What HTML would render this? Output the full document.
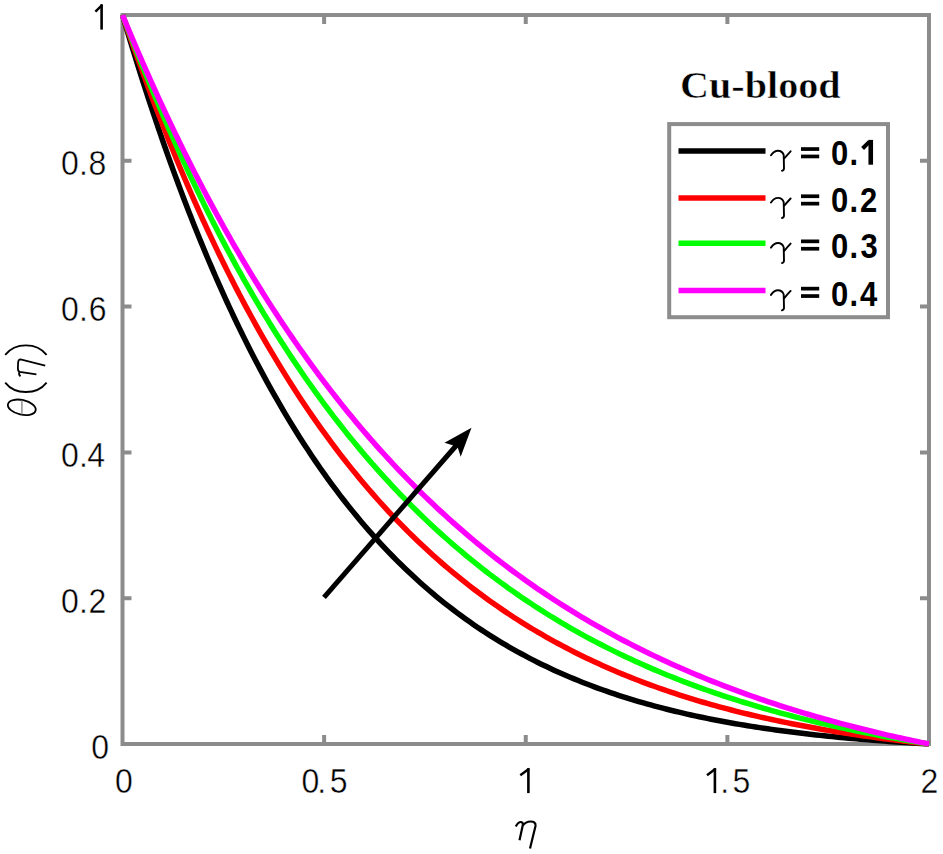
<!DOCTYPE html>
<html><head><meta charset="utf-8"><style>
html,body{margin:0;padding:0;background:#fff;width:943px;height:854px;overflow:hidden}
svg{display:block}
.t{font-family:"Liberation Sans",sans-serif;font-size:32px;fill:#000;stroke:#fff;stroke-width:0.4px}
.b{font-family:"Liberation Sans",sans-serif;font-size:31px;font-weight:bold;fill:#000}
</style></head><body>
<svg width="943" height="854" viewBox="0 0 943 854">
<rect x="0" y="0" width="943" height="854" fill="#fff"/>
<g stroke="#8c8c8c" stroke-width="4" fill="none">
<rect x="122.5" y="15.0" width="806.5" height="729.0"/>
<path d="M324.12 744.0v-9M324.12 15.0v9M525.75 744.0v-9M525.75 15.0v9M727.38 744.0v-9M727.38 15.0v9M122.5 598.20h9M929.0 598.20h-9M122.5 452.40h9M929.0 452.40h-9M122.5 306.60h9M929.0 306.60h-9M122.5 160.80h9M929.0 160.80h-9"/>
</g>
<g fill="none" stroke-width="5.5" stroke-linejoin="round" stroke-linecap="butt">
<path d="M122.50 15.00 L124.52 21.81 L126.53 28.57 L128.55 35.28 L130.56 41.92 L132.58 48.51 L134.60 55.05 L136.61 61.53 L138.63 67.96 L140.65 74.33 L142.66 80.65 L144.68 86.92 L146.69 93.14 L148.71 99.30 L150.73 105.41 L152.74 111.47 L154.76 117.48 L156.78 123.44 L158.79 129.34 L160.81 135.20 L162.82 141.01 L164.84 146.77 L166.86 152.48 L168.87 158.14 L170.89 163.75 L172.91 169.32 L174.92 174.84 L176.94 180.31 L178.96 185.73 L180.97 191.11 L182.99 196.44 L185.00 201.73 L187.02 206.97 L189.04 212.16 L191.05 217.31 L193.07 222.42 L195.08 227.48 L197.10 232.50 L199.12 237.48 L201.13 242.41 L203.15 247.30 L205.17 252.15 L207.18 256.95 L209.20 261.71 L211.22 266.44 L213.23 271.12 L215.25 275.76 L217.26 280.36 L219.28 284.92 L221.30 289.44 L223.31 293.92 L225.33 298.36 L227.34 302.76 L229.36 307.12 L231.38 311.45 L233.39 315.73 L235.41 319.98 L237.43 324.19 L239.44 328.37 L241.46 332.50 L243.47 336.60 L247.51 344.70 L251.54 352.65 L255.57 360.45 L259.61 368.12 L263.64 375.66 L267.67 383.06 L271.70 390.32 L275.74 397.46 L279.77 404.47 L283.80 411.35 L287.83 418.11 L291.87 424.74 L295.90 431.26 L299.93 437.66 L303.96 443.94 L308.00 450.11 L312.03 456.16 L316.06 462.11 L320.09 467.94 L324.12 473.67 L328.16 479.29 L332.19 484.81 L336.22 490.23 L340.25 495.54 L344.29 500.76 L348.32 505.88 L352.35 510.90 L356.38 515.84 L360.42 520.68 L364.45 525.42 L368.48 530.08 L372.51 534.65 L376.55 539.14 L380.58 543.54 L384.61 547.86 L388.64 552.09 L392.68 556.25 L396.71 560.32 L400.74 564.32 L404.77 568.24 L408.81 572.09 L412.84 575.86 L416.87 579.56 L420.90 583.19 L424.94 586.75 L428.97 590.24 L433.00 593.66 L437.04 597.02 L441.07 600.31 L445.10 603.53 L449.13 606.70 L453.17 609.80 L457.20 612.84 L461.23 615.82 L465.26 618.74 L469.30 621.60 L473.33 624.41 L477.36 627.16 L481.39 629.86 L485.42 632.51 L489.46 635.10 L493.49 637.64 L497.52 640.13 L501.56 642.56 L505.59 644.95 L509.62 647.30 L513.65 649.59 L517.68 651.84 L521.72 654.04 L525.75 656.20 L529.78 658.32 L533.82 660.39 L537.85 662.42 L541.88 664.41 L545.91 666.35 L549.94 668.26 L553.98 670.13 L558.01 671.96 L562.04 673.75 L566.08 675.51 L570.11 677.23 L574.14 678.91 L578.17 680.56 L582.20 682.18 L586.24 683.76 L590.27 685.30 L594.30 686.82 L598.34 688.30 L602.37 689.76 L606.40 691.18 L610.43 692.57 L614.46 693.93 L618.50 695.27 L622.53 696.58 L626.56 697.85 L630.60 699.11 L634.63 700.33 L638.66 701.53 L642.69 702.70 L646.73 703.85 L650.76 704.97 L654.79 706.07 L658.82 707.15 L662.86 708.20 L666.89 709.23 L670.92 710.24 L674.95 711.23 L678.99 712.19 L683.02 713.13 L687.05 714.06 L691.08 714.96 L695.12 715.84 L699.15 716.71 L703.18 717.55 L707.21 718.38 L711.25 719.19 L715.28 719.98 L719.31 720.75 L723.34 721.51 L727.38 722.25 L731.41 722.97 L735.44 723.68 L739.47 724.37 L743.50 725.05 L747.54 725.71 L751.57 726.35 L755.60 726.99 L759.63 727.60 L763.67 728.21 L767.70 728.80 L771.73 729.37 L775.76 729.94 L779.80 730.49 L783.83 731.03 L787.86 731.55 L791.90 732.07 L795.93 732.57 L799.96 733.06 L803.99 733.54 L808.03 734.01 L812.06 734.47 L816.09 734.92 L820.12 735.36 L824.15 735.79 L828.19 736.20 L832.22 736.61 L836.25 737.01 L840.28 737.40 L844.32 737.78 L848.35 738.15 L852.38 738.51 L856.42 738.87 L860.45 739.22 L864.48 739.55 L868.51 739.88 L872.55 740.21 L876.58 740.52 L880.61 740.83 L884.64 741.13 L888.68 741.42 L892.71 741.71 L896.74 741.99 L900.77 742.26 L904.81 742.53 L908.84 742.79 L912.87 743.04 L916.90 743.29 L920.93 743.53 L924.97 743.77 L929.00 744.00" stroke="#000000"/>
<path d="M122.50 15.00 L124.52 20.90 L126.53 26.76 L128.55 32.58 L130.56 38.36 L132.58 44.09 L134.60 49.78 L136.61 55.43 L138.63 61.04 L140.65 66.61 L142.66 72.13 L144.68 77.62 L146.69 83.06 L148.71 88.47 L150.73 93.84 L152.74 99.16 L154.76 104.45 L156.78 109.70 L158.79 114.91 L160.81 120.08 L162.82 125.22 L164.84 130.32 L166.86 135.37 L168.87 140.40 L170.89 145.38 L172.91 150.33 L174.92 155.24 L176.94 160.11 L178.96 164.95 L180.97 169.75 L182.99 174.52 L185.00 179.25 L187.02 183.95 L189.04 188.61 L191.05 193.24 L193.07 197.83 L195.08 202.39 L197.10 206.91 L199.12 211.40 L201.13 215.86 L203.15 220.29 L205.17 224.68 L207.18 229.03 L209.20 233.36 L211.22 237.65 L213.23 241.91 L215.25 246.14 L217.26 250.34 L219.28 254.51 L221.30 258.64 L223.31 262.75 L225.33 266.82 L227.34 270.86 L229.36 274.87 L231.38 278.85 L233.39 282.81 L235.41 286.73 L237.43 290.62 L239.44 294.48 L241.46 298.31 L243.47 302.12 L247.51 309.64 L251.54 317.05 L255.57 324.35 L259.61 331.54 L263.64 338.61 L267.67 345.58 L271.70 352.45 L275.74 359.21 L279.77 365.86 L283.80 372.42 L287.83 378.88 L291.87 385.23 L295.90 391.49 L299.93 397.65 L303.96 403.72 L308.00 409.70 L312.03 415.58 L316.06 421.37 L320.09 427.08 L324.12 432.69 L328.16 438.22 L332.19 443.66 L336.22 449.02 L340.25 454.30 L344.29 459.49 L348.32 464.60 L352.35 469.63 L356.38 474.59 L360.42 479.46 L364.45 484.26 L368.48 488.99 L372.51 493.64 L376.55 498.22 L380.58 502.72 L384.61 507.16 L388.64 511.52 L392.68 515.82 L396.71 520.05 L400.74 524.21 L404.77 528.30 L408.81 532.33 L412.84 536.30 L416.87 540.20 L420.90 544.04 L424.94 547.82 L428.97 551.54 L433.00 555.20 L437.04 558.80 L441.07 562.34 L445.10 565.83 L449.13 569.26 L453.17 572.64 L457.20 575.96 L461.23 579.23 L465.26 582.44 L469.30 585.60 L473.33 588.72 L477.36 591.78 L481.39 594.79 L485.42 597.75 L489.46 600.67 L493.49 603.53 L497.52 606.35 L501.56 609.13 L505.59 611.86 L509.62 614.54 L513.65 617.18 L517.68 619.78 L521.72 622.33 L525.75 624.85 L529.78 627.32 L533.82 629.75 L537.85 632.14 L541.88 634.49 L545.91 636.80 L549.94 639.07 L553.98 641.31 L558.01 643.51 L562.04 645.67 L566.08 647.80 L570.11 649.89 L574.14 651.95 L578.17 653.97 L582.20 655.96 L586.24 657.91 L590.27 659.83 L594.30 661.72 L598.34 663.58 L602.37 665.41 L606.40 667.20 L610.43 668.97 L614.46 670.71 L618.50 672.41 L622.53 674.09 L626.56 675.74 L630.60 677.36 L634.63 678.96 L638.66 680.52 L642.69 682.06 L646.73 683.58 L650.76 685.07 L654.79 686.53 L658.82 687.97 L662.86 689.38 L666.89 690.77 L670.92 692.14 L674.95 693.48 L678.99 694.80 L683.02 696.09 L687.05 697.37 L691.08 698.62 L695.12 699.85 L699.15 701.06 L703.18 702.25 L707.21 703.42 L711.25 704.56 L715.28 705.69 L719.31 706.80 L723.34 707.89 L727.38 708.96 L731.41 710.01 L735.44 711.04 L739.47 712.06 L743.50 713.05 L747.54 714.03 L751.57 714.99 L755.60 715.94 L759.63 716.87 L763.67 717.78 L767.70 718.68 L771.73 719.56 L775.76 720.42 L779.80 721.27 L783.83 722.11 L787.86 722.93 L791.90 723.73 L795.93 724.52 L799.96 725.30 L803.99 726.06 L808.03 726.81 L812.06 727.55 L816.09 728.27 L820.12 728.98 L824.15 729.68 L828.19 730.37 L832.22 731.04 L836.25 731.70 L840.28 732.35 L844.32 732.99 L848.35 733.61 L852.38 734.23 L856.42 734.83 L860.45 735.42 L864.48 736.01 L868.51 736.58 L872.55 737.14 L876.58 737.69 L880.61 738.23 L884.64 738.76 L888.68 739.28 L892.71 739.79 L896.74 740.30 L900.77 740.79 L904.81 741.27 L908.84 741.75 L912.87 742.22 L916.90 742.68 L920.93 743.12 L924.97 743.57 L929.00 744.00" stroke="#ff0000"/>
<path d="M122.50 15.00 L124.52 20.32 L126.53 25.60 L128.55 30.85 L130.56 36.06 L132.58 41.24 L134.60 46.38 L136.61 51.49 L138.63 56.57 L140.65 61.61 L142.66 66.62 L144.68 71.60 L146.69 76.54 L148.71 81.45 L150.73 86.33 L152.74 91.17 L154.76 95.98 L156.78 100.76 L158.79 105.51 L160.81 110.23 L162.82 114.92 L164.84 119.57 L166.86 124.20 L168.87 128.79 L170.89 133.35 L172.91 137.88 L174.92 142.39 L176.94 146.86 L178.96 151.30 L180.97 155.71 L182.99 160.10 L185.00 164.45 L187.02 168.77 L189.04 173.07 L191.05 177.34 L193.07 181.58 L195.08 185.79 L197.10 189.97 L199.12 194.12 L201.13 198.25 L203.15 202.35 L205.17 206.42 L207.18 210.46 L209.20 214.48 L211.22 218.47 L213.23 222.43 L215.25 226.37 L217.26 230.28 L219.28 234.17 L221.30 238.02 L223.31 241.86 L225.33 245.66 L227.34 249.44 L229.36 253.20 L231.38 256.93 L233.39 260.63 L235.41 264.31 L237.43 267.97 L239.44 271.60 L241.46 275.21 L243.47 278.79 L247.51 285.88 L251.54 292.88 L255.57 299.78 L259.61 306.59 L263.64 313.31 L267.67 319.93 L271.70 326.47 L275.74 332.92 L279.77 339.28 L283.80 345.56 L287.83 351.75 L291.87 357.86 L295.90 363.89 L299.93 369.83 L303.96 375.69 L308.00 381.48 L312.03 387.18 L316.06 392.81 L320.09 398.36 L324.12 403.84 L328.16 409.24 L332.19 414.57 L336.22 419.82 L340.25 425.01 L344.29 430.12 L348.32 435.16 L352.35 440.14 L356.38 445.04 L360.42 449.88 L364.45 454.66 L368.48 459.36 L372.51 464.01 L376.55 468.59 L380.58 473.11 L384.61 477.56 L388.64 481.95 L392.68 486.29 L396.71 490.56 L400.74 494.78 L404.77 498.93 L408.81 503.03 L412.84 507.08 L416.87 511.06 L420.90 515.00 L424.94 518.87 L428.97 522.70 L433.00 526.47 L437.04 530.19 L441.07 533.86 L445.10 537.48 L449.13 541.04 L453.17 544.56 L457.20 548.03 L461.23 551.45 L465.26 554.82 L469.30 558.15 L473.33 561.43 L477.36 564.66 L481.39 567.85 L485.42 571.00 L489.46 574.10 L493.49 577.16 L497.52 580.17 L501.56 583.15 L505.59 586.08 L509.62 588.97 L513.65 591.82 L517.68 594.63 L521.72 597.40 L525.75 600.13 L529.78 602.82 L533.82 605.48 L537.85 608.10 L541.88 610.68 L545.91 613.23 L549.94 615.74 L553.98 618.21 L558.01 620.65 L562.04 623.05 L566.08 625.42 L570.11 627.76 L574.14 630.07 L578.17 632.34 L582.20 634.58 L586.24 636.79 L590.27 638.96 L594.30 641.11 L598.34 643.23 L602.37 645.31 L606.40 647.37 L610.43 649.39 L614.46 651.39 L618.50 653.36 L622.53 655.30 L626.56 657.22 L630.60 659.10 L634.63 660.96 L638.66 662.80 L642.69 664.61 L646.73 666.39 L650.76 668.14 L654.79 669.87 L658.82 671.58 L662.86 673.26 L666.89 674.92 L670.92 676.55 L674.95 678.16 L678.99 679.75 L683.02 681.32 L687.05 682.86 L691.08 684.38 L695.12 685.88 L699.15 687.35 L703.18 688.81 L707.21 690.24 L711.25 691.66 L715.28 693.05 L719.31 694.42 L723.34 695.77 L727.38 697.11 L731.41 698.42 L735.44 699.72 L739.47 701.00 L743.50 702.25 L747.54 703.49 L751.57 704.72 L755.60 705.92 L759.63 707.11 L763.67 708.28 L767.70 709.43 L771.73 710.57 L775.76 711.68 L779.80 712.79 L783.83 713.87 L787.86 714.95 L791.90 716.00 L795.93 717.04 L799.96 718.07 L803.99 719.08 L808.03 720.07 L812.06 721.05 L816.09 722.02 L820.12 722.97 L824.15 723.91 L828.19 724.83 L832.22 725.74 L836.25 726.64 L840.28 727.53 L844.32 728.40 L848.35 729.26 L852.38 730.10 L856.42 730.94 L860.45 731.76 L864.48 732.57 L868.51 733.36 L872.55 734.15 L876.58 734.92 L880.61 735.69 L884.64 736.44 L888.68 737.18 L892.71 737.91 L896.74 738.62 L900.77 739.33 L904.81 740.03 L908.84 740.72 L912.87 741.39 L916.90 742.06 L920.93 742.72 L924.97 743.36 L929.00 744.00" stroke="#00ff00"/>
<path d="M122.50 15.00 L124.52 19.88 L126.53 24.74 L128.55 29.56 L130.56 34.36 L132.58 39.13 L134.60 43.87 L136.61 48.57 L138.63 53.26 L140.65 57.91 L142.66 62.53 L144.68 67.13 L146.69 71.70 L148.71 76.24 L150.73 80.75 L152.74 85.24 L154.76 89.70 L156.78 94.13 L158.79 98.53 L160.81 102.91 L162.82 107.26 L164.84 111.59 L166.86 115.89 L168.87 120.16 L170.89 124.41 L172.91 128.63 L174.92 132.82 L176.94 136.99 L178.96 141.14 L180.97 145.26 L182.99 149.35 L185.00 153.42 L187.02 157.47 L189.04 161.49 L191.05 165.49 L193.07 169.46 L195.08 173.41 L197.10 177.33 L199.12 181.23 L201.13 185.11 L203.15 188.96 L205.17 192.79 L207.18 196.59 L209.20 200.38 L211.22 204.14 L213.23 207.87 L215.25 211.59 L217.26 215.28 L219.28 218.95 L221.30 222.59 L223.31 226.22 L225.33 229.82 L227.34 233.40 L229.36 236.96 L231.38 240.50 L233.39 244.01 L235.41 247.51 L237.43 250.98 L239.44 254.43 L241.46 257.86 L243.47 261.27 L247.51 268.03 L251.54 274.71 L255.57 281.30 L259.61 287.81 L263.64 294.25 L267.67 300.61 L271.70 306.88 L275.74 313.09 L279.77 319.21 L283.80 325.27 L287.83 331.25 L291.87 337.15 L295.90 342.99 L299.93 348.75 L303.96 354.44 L308.00 360.06 L312.03 365.62 L316.06 371.11 L320.09 376.53 L324.12 381.88 L328.16 387.17 L332.19 392.39 L336.22 397.55 L340.25 402.65 L344.29 407.68 L348.32 412.66 L352.35 417.57 L356.38 422.42 L360.42 427.21 L364.45 431.95 L368.48 436.62 L372.51 441.24 L376.55 445.81 L380.58 450.31 L384.61 454.76 L388.64 459.16 L392.68 463.50 L396.71 467.79 L400.74 472.03 L404.77 476.21 L408.81 480.35 L412.84 484.43 L416.87 488.46 L420.90 492.45 L424.94 496.38 L428.97 500.27 L433.00 504.11 L437.04 507.90 L441.07 511.64 L445.10 515.34 L449.13 518.99 L453.17 522.60 L457.20 526.17 L461.23 529.69 L465.26 533.16 L469.30 536.60 L473.33 539.99 L477.36 543.34 L481.39 546.64 L485.42 549.91 L489.46 553.14 L493.49 556.33 L497.52 559.48 L501.56 562.58 L505.59 565.66 L509.62 568.69 L513.65 571.68 L517.68 574.64 L521.72 577.56 L525.75 580.45 L529.78 583.30 L533.82 586.12 L537.85 588.90 L541.88 591.64 L545.91 594.35 L549.94 597.03 L553.98 599.68 L558.01 602.29 L562.04 604.87 L566.08 607.42 L570.11 609.93 L574.14 612.42 L578.17 614.87 L582.20 617.30 L586.24 619.69 L590.27 622.06 L594.30 624.39 L598.34 626.70 L602.37 628.98 L606.40 631.22 L610.43 633.45 L614.46 635.64 L618.50 637.81 L622.53 639.95 L626.56 642.06 L630.60 644.15 L634.63 646.21 L638.66 648.24 L642.69 650.25 L646.73 652.24 L650.76 654.20 L654.79 656.13 L658.82 658.04 L662.86 659.93 L666.89 661.79 L670.92 663.64 L674.95 665.45 L678.99 667.25 L683.02 669.02 L687.05 670.77 L691.08 672.50 L695.12 674.21 L699.15 675.90 L703.18 677.56 L707.21 679.20 L711.25 680.83 L715.28 682.43 L719.31 684.02 L723.34 685.58 L727.38 687.12 L731.41 688.65 L735.44 690.15 L739.47 691.64 L743.50 693.11 L747.54 694.56 L751.57 695.99 L755.60 697.40 L759.63 698.80 L763.67 700.18 L767.70 701.54 L771.73 702.88 L775.76 704.21 L779.80 705.52 L783.83 706.82 L787.86 708.09 L791.90 709.36 L795.93 710.60 L799.96 711.83 L803.99 713.05 L808.03 714.25 L812.06 715.43 L816.09 716.60 L820.12 717.76 L824.15 718.90 L828.19 720.02 L832.22 721.14 L836.25 722.23 L840.28 723.32 L844.32 724.39 L848.35 725.45 L852.38 726.49 L856.42 727.52 L860.45 728.54 L864.48 729.54 L868.51 730.54 L872.55 731.51 L876.58 732.48 L880.61 733.44 L884.64 734.38 L888.68 735.31 L892.71 736.23 L896.74 737.14 L900.77 738.04 L904.81 738.92 L908.84 739.79 L912.87 740.66 L916.90 741.51 L920.93 742.35 L924.97 743.18 L929.00 744.00" stroke="#ff00ff"/>
</g>
<text class="t" transform="translate(0 758.6) scale(1 1.08)" x="91.15" y="0">0</text>
<text class="t" transform="translate(0 612.8) scale(1 1.08)" x="61.05 79.09 88.40" y="0">0.2</text>
<text class="t" transform="translate(0 467.0) scale(1 1.08)" x="61.05 79.09 87.36" y="0">0.4</text>
<text class="t" transform="translate(0 321.2) scale(1 1.08)" x="61.05 79.09 88.67" y="0">0.6</text>
<text class="t" transform="translate(0 175.4) scale(1 1.08)" x="60.95 79.09 88.62" y="0">0.8</text>
<text class="t" transform="translate(0 792.9) scale(1 1.08)" x="114.95" y="0">0</text>
<text class="t" transform="translate(0 792.9) scale(1 1.08)" x="301.45 317.19 329.82" y="0">0.5</text>
<text class="t" transform="translate(0 792.9) scale(1 1.08)" x="720.29 732.42" y="0">.5</text>
<text class="t" transform="translate(0 792.9) scale(1 1.08)" x="920.40" y="0">2</text>
<g stroke="#000" fill="none"><path d="M101.6 29.6V4.3" stroke-width="2.6"/><path d="M102.3 4.8999999999999995L95.4 11.6" stroke-width="2.4"/><path d="M528.4 793.1V768.1" stroke-width="2.6"/><path d="M529.0999999999999 768.7L520.3 775.3" stroke-width="2.4"/><path d="M714.9 793.1V768.1" stroke-width="2.6"/><path d="M715.5999999999999 768.7L707 775.3" stroke-width="2.4"/></g>
<g fill="none" stroke="#000" stroke-width="1.8">
<path d="M5.2 354.9C11 347.5 18 345.4 25.9 345.4C33.8 345.4 40.8 347.5 46.6 354.9"/>
<path d="M5.2 382.6C11 390 18 392 25.9 392C33.8 392 40.8 390 46.6 382.6"/>
<ellipse cx="21.8" cy="407.3" rx="14.2" ry="7.3" transform="rotate(13 21.8 407.3)"/>
<path d="M21.9 400.5V414.3" stroke="#999" stroke-width="1.6"/>
<path d="M36.4 374.4L19.8 371.8C18.3 371.5 17.8 370 17.9 368L18.1 362.5C18.3 360.3 19 359.2 20.6 359.3L45.2 365.6"/>
<path d="M19.8 371.8C18.8 373.2 19 375.2 20.5 376.4"/>
</g>
<path d="M515.8 826.5C517 824 518.5 822 521 822C522.6 822 523.1 823.5 522.7 825.5L519.5 840.2M522.4 826C524.6 823 527.5 821.5 530.6 821.5C534 821.5 535.9 823 535.5 826L530 848.6" fill="none" stroke="#000" stroke-width="2.2"/>
<text x="679.9" y="98.2" font-family="'Liberation Serif', serif" font-weight="bold" font-size="37.2" textLength="160.8" lengthAdjust="spacingAndGlyphs" stroke="#fff" stroke-width="0.5">Cu-blood</text>
<rect x="669.2" y="124.1" width="218.8" height="193.1" fill="#fff" stroke="#8c8c8c" stroke-width="4"/>
<path d="M678.5 150.9h87" stroke="#000" stroke-width="5.5"/>
<path d="M678.5 198.1h87" stroke="#ff0000" stroke-width="5.5"/>
<path d="M678.5 243.2h87" stroke="#00ff00" stroke-width="5.5"/>
<path d="M678.5 290.5h87" stroke="#ff00ff" stroke-width="5.5"/>
<path d="M771 155.3C773 152.4 775.3 150.7 778 150.7C781 150.7 782.8 152.2 783.7 154.9L784 168.2C784 169.7 783.2 170.5 782 170.8M784.3 158.5C786.4 155.9 788.5 153.5 790.6 151.3M771 202.5C773 199.6 775.3 197.9 778 197.9C781 197.9 782.8 199.4 783.7 202.1L784 215.4C784 216.9 783.2 217.7 782 218.0M784.3 205.7C786.4 203.1 788.5 200.7 790.6 198.5M771 247.6C773 244.7 775.3 243.0 778 243.0C781 243.0 782.8 244.5 783.7 247.2L784 260.5C784 262.0 783.2 262.8 782 263.1M784.3 250.8C786.4 248.2 788.5 245.8 790.6 243.6M771 294.9C773 292.0 775.3 290.3 778 290.3C781 290.3 782.8 291.8 783.7 294.5L784 307.8C784 309.3 783.2 310.1 782 310.4M784.3 298.1C786.4 295.5 788.5 293.1 790.6 290.9" fill="none" stroke="#000" stroke-width="1.9" stroke-linecap="round"/>
<g fill="#000"><rect x="801" y="147.20" width="18.2" height="3.7"/><rect x="801" y="154.60" width="18.2" height="3.7"/><rect x="801" y="194.40" width="18.2" height="3.7"/><rect x="801" y="201.80" width="18.2" height="3.7"/><rect x="801" y="239.50" width="18.2" height="3.7"/><rect x="801" y="246.90" width="18.2" height="3.7"/><rect x="801" y="286.80" width="18.2" height="3.7"/><rect x="801" y="294.20" width="18.2" height="3.7"/></g>
<text class="b" transform="translate(0 164.7) scale(1 1.13)" x="831.06 849.39" y="0">0.</text>
<text class="b" transform="translate(0 212.3) scale(1 1.13)" x="831.06 849.39 859.91" y="0">0.2</text>
<text class="b" transform="translate(0 257.6) scale(1 1.13)" x="831.06 849.39 860.59" y="0">0.3</text>
<text class="b" transform="translate(0 305.6) scale(1 1.13)" x="831.06 849.39 860.03" y="0">0.4</text>
<g stroke="#000" fill="none"><path d="M870.75 164.7V139.90" stroke-width="4.6"/><path d="M869.5 141.70L862.6 148.50" stroke-width="4"/></g>
<g fill="#000" stroke="#000">
<path d="M324 597.3L458 443.5" stroke-width="5" fill="none"/>
<path d="M471.5 427.7L444.5 442.7L457.5 446.8L460.7 456.7Z" stroke="none"/>
</g>
</svg>
</body></html>
